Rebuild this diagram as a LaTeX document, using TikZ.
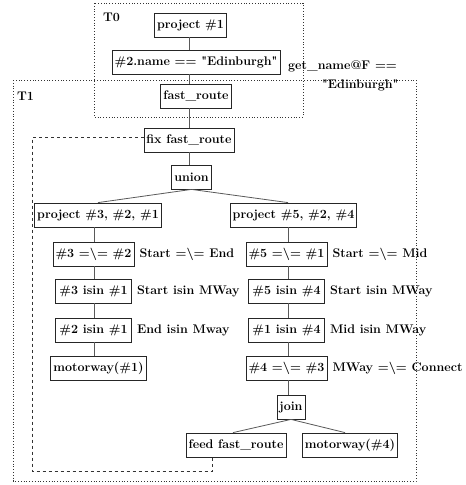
\documentclass[tikz,border=0pt]{standalone}
\usetikzlibrary{positioning}
\usetikzlibrary{calc}

\tikzset{
  op/.style={draw=black!85,line width=0.8pt,fill=white,inner xsep=2.5pt,minimum height=24pt,font=\fontsize{12.5}{15}\selectfont\bfseries},
  test/.style={op,minimum width=76pt},
  lbl/.style={anchor=west,inner sep=0pt,font=\fontsize{12.5}{15}\selectfont\bfseries},
  link/.style={draw=black!65,line width=0.8pt},
  frame/.style={draw=black!80,dotted,line width=0.8pt},
  feedback/.style={draw=black!80,dashed,line width=0.7pt}
}
\newcommand{\dq}{\textquotedbl}

\begin{document}
\begin{tikzpicture}[x=1pt,y=-1pt,node distance=5pt]
            \useasboundingbox (0,0) rectangle (466,485);
            % transaction frames
            \draw[frame] (94,3) rectangle (303,117);
            \draw[frame] (13,80) rectangle (416,481);
            \node[lbl] (t0) at (103,17) {T0};
            \node[lbl] (t1) at (17,96) {T1};
            % columns
            \coordinate (trunk) at (189,0);
            \coordinate (lcol) at (94,0);
            \coordinate (rcol) at (288,0);
            % top part
            \node[op] (proj1) at (190.5,25) {project \#1};
            \node[op] (sel) at (196,62) {\#2.name == \dq Edinburgh\dq};
            \node[lbl] (cond) at (288,66) {get\_name@F ==};
            \node[lbl] (condb) at (322,85) {\dq Edinburgh\dq};
            \node[op] (fast) at (196,96) {fast\_route};
            \node[op] (fix) at (189,140) {fix fast\_route};
            \node[op] (union) at (191.5,177) {union};
            % left branch
            \node[op] (proj3) at (98,215) {project \#3, \#2, \#1};
            \node[test] (neq32) at (93.5,254) {\#3 =\textbackslash= \#2};
            \node[lbl,right=of neq32] (neq32l) {Start =\textbackslash= End};
            \node[test] (in31) at (93.5,291) {\#3 isin \#1};
            \node[lbl,right=of in31] (in31l) {Start isin MWay};
            \node[test] (in21) at (93.5,330) {\#2 isin \#1};
            \node[lbl,right=of in21] (in21l) {End isin Mway};
            \node[op] (mway1) at (98.5,368) {motorway(\#1)};
            % right branch
            \node[op] (proj5) at (293.5,215) {project \#5, \#2, \#4};
            \node[test] (neq51) at (286.5,254) {\#5 =\textbackslash= \#1};
            \node[lbl,right=of neq51] (neq51l) {Start =\textbackslash= Mid};
            \node[test] (in54) at (286.5,291) {\#5 isin \#4};
            \node[lbl,right=of in54] (in54l) {Start isin MWay};
            \node[test] (in14) at (286.5,330) {\#1 isin \#4};
            \node[lbl,right=of in14] (in14l) {Mid isin MWay};
            \node[test] (neq43) at (286.5,368) {\#4 =\textbackslash= \#3};
            \node[lbl,right=of neq43] (neq43l) {MWay =\textbackslash= Connect};
            \node[op] (join) at (291,407) {join};
            \node[op] (feed) at (236,445) {feed fast\_route};
            \node[op] (mway4) at (350,445) {motorway(\#4)};
            % connectors
            \foreach \a/\b in {proj1/sel,sel/fast,fast/fix,fix/union}
              \draw[link] (\a.south -| trunk) -- (\b.north -| trunk);
            \foreach \a/\b in {proj3/neq32,neq32/in31,in31/in21,in21/mway1}
              \draw[link] (\a.south -| lcol) -- (\b.north -| lcol);
            \foreach \a/\b in {proj5/neq51,neq51/in54,in54/in14,in14/neq43,neq43/join}
              \draw[link] (\a.south -| rcol) -- (\b.north -| rcol);
            \draw[link] (union.south) -- (proj3.north);
            \draw[link] (union.south) -- (proj5.north -| rcol);
            \draw[link] (join.south) -- ($(feed.north)+(-3,0)$);
            \draw[link] (join.south) -- ($(mway4.north)+(-5,0)$);
            % feedback loop
            \coordinate (lc) at (32,471);
            \coordinate (fb) at (212,471);
            \draw[feedback] (fix.west |- 0,137) -| (lc) -- (fb) -- (fb |- feed.south);
        \end{tikzpicture}
\end{document}
